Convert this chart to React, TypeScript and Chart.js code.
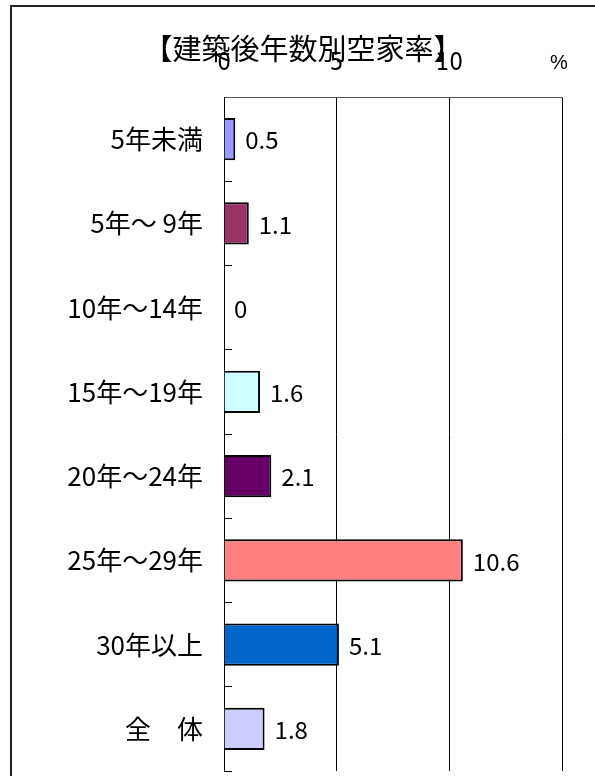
import React, { useEffect, useRef } from 'react';
import { Chart, registerables } from 'chart.js';

Chart.register(...registerables);

const categories = ['5年未満', '5年～ 9年', '10年～14年', '15年～19年', '20年～24年', '25年～29年', '30年以上', '全　体'];
const values = [0.5, 1.1, 0, 1.6, 2.1, 10.6, 5.1, 1.8];
const valueLabels = ['0.5', '1.1', '0', '1.6', '2.1', '10.6', '5.1', '1.8'];
const barColors = ['#9999FF', '#993366', '#FFFFFF', '#CCFFFF', '#660066', '#FF8080', '#0066CC', '#CCCCFF'];
const xTickLabels = ['0', '5', '10', ''];
const titleText = '【建築後年数別空家率】';
const unitText = '%';

const JP = '"Noto Sans CJK JP", "Noto Sans", sans-serif';

const framePlugin = {
  id: 'frame',
  beforeDraw(chart: any) {
    const ctx = chart.ctx;
    ctx.save();
    ctx.fillStyle = '#ffffff';
    ctx.fillRect(0, 0, chart.width, chart.height);
    ctx.strokeStyle = '#222';
    ctx.lineWidth = 2;
    ctx.beginPath();
    ctx.moveTo(11, chart.height);
    ctx.lineTo(11, 6);
    ctx.lineTo(chart.width, 6);
    ctx.stroke();
    ctx.fillStyle = '#000';
    ctx.font = '29px ' + JP;
    ctx.textAlign = 'center';
    ctx.textBaseline = 'middle';
    ctx.fillText(titleText, 303, 49);
    ctx.font = '20px "Liberation Sans", sans-serif';
    ctx.fillText(unitText, 559, 63);
    ctx.restore();
  },
};

const valueLabelPlugin = {
  id: 'valueLabels',
  afterDatasetsDraw(chart: any) {
    const ctx = chart.ctx;
    const meta = chart.getDatasetMeta(0);
    ctx.save();
    ctx.fillStyle = '#000';
    ctx.font = '24px ' + JP;
    ctx.textAlign = 'left';
    ctx.textBaseline = 'middle';
    meta.data.forEach((bar: any, i: number) => {
      ctx.fillText(valueLabels[i], bar.x + 10, bar.y + 1);
    });
    ctx.restore();
  },
};

export default function App() {
  const ref = useRef<HTMLCanvasElement>(null);
  useEffect(() => {
    if (!ref.current) return;
    const chart = new Chart(ref.current, {
      type: 'bar',
      data: {
        labels: categories,
        datasets: [
          {
            data: values,
            backgroundColor: barColors,
            borderColor: '#000',
            borderWidth: 2,
            categoryPercentage: 1,
            barPercentage: 0.5,
          },
        ],
      },
      options: {
        indexAxis: 'y',
        animation: false,
        responsive: false,
        maintainAspectRatio: false,
        layout: { padding: { left: 0, right: 33, top: 0, bottom: 5 } },
        plugins: { legend: { display: false }, tooltip: { enabled: false }, title: { display: false } },
        scales: {
          x: {
            position: 'top',
            min: 0,
            max: 15,
            afterFit(scale: any) {
              scale.height = 97;
              scale.paddingLeft = 0;
              scale.paddingRight = 0;
            },
            ticks: {
              stepSize: 5,
              padding: 19,
              color: '#000',
              font: { family: '"DejaVu Sans Condensed", "Liberation Sans Narrow", sans-serif', size: 24 },
              callback: (_v: any, i: number) => xTickLabels[i],
            },
            grid: { color: '#000', lineWidth: 1, drawTicks: false },
            border: { color: '#555', width: 1 },
          },
          y: {
            afterFit(scale: any) {
              scale.width = 224;
              scale.paddingTop = 0;
              scale.paddingBottom = 0;
            },
            ticks: {
              padding: 29,
              color: '#000',
              font: { family: JP, size: 26 },
            },
            grid: { drawOnChartArea: false, drawTicks: true, tickLength: -8, color: '#000', offset: true },
            border: { color: '#000', width: 1 },
          },
        },
      },
      plugins: [framePlugin, valueLabelPlugin],
    } as any);
    return () => chart.destroy();
  }, []);
  return (
    <div style={{ position: 'absolute', left: 0, top: 0, width: 595, height: 776 }}>
      <canvas ref={ref} width={595} height={776} />
    </div>
  );
}
